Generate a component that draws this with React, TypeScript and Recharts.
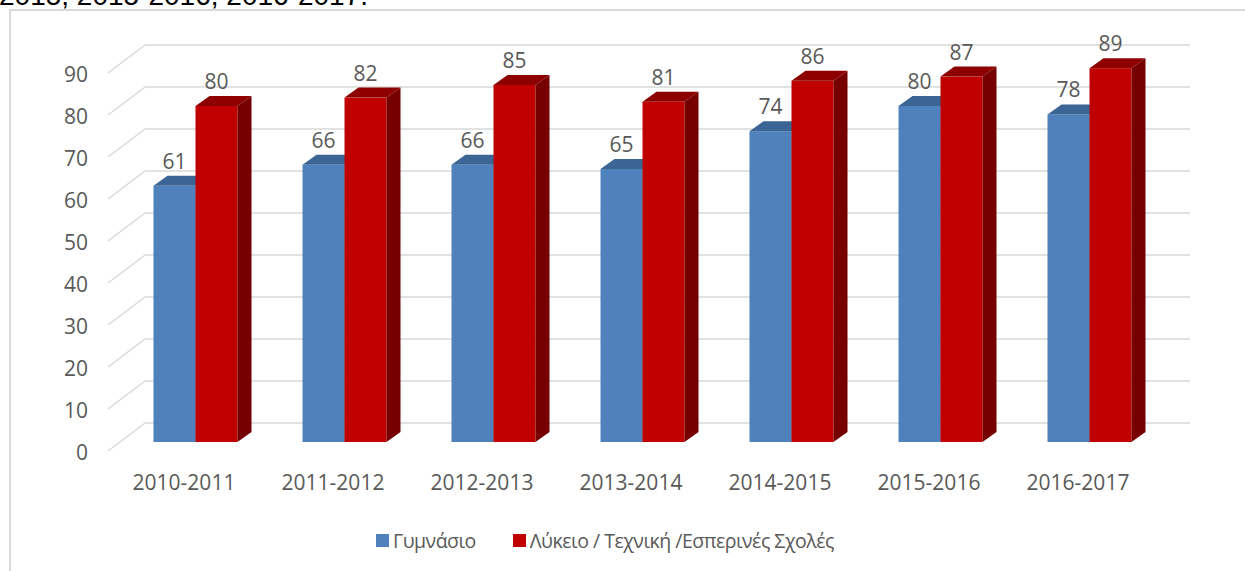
import React from 'react';
import { BarChart, Bar, XAxis, YAxis, CartesianGrid, LabelList } from 'recharts';

// --- data ---
const years = ['2010-2011', '2011-2012', '2012-2013', '2013-2014', '2014-2015', '2015-2016', '2016-2017'];
const gymnasio = [61, 66, 66, 65, 74, 80, 78];
const lykeio = [80, 82, 85, 81, 86, 87, 89];
const yTicks = [0, 10, 20, 30, 40, 50, 60, 70, 80, 90];
const seriesNames = ['Γυμνάσιο', 'Λύκειο / Τεχνική /Εσπερινές Σχολές'];

const data = years.map((year, i) => ({ year, gym: gymnasio[i], lyk: lykeio[i] }));

const FONT = '"Open Sans", sans-serif';
const TEXT = '#595959';
const GRID = '#d9d9d9';
// 3d depth of the columns
const DX = 14;
const DY = 10;

// column with a top and a side face
const Column3D = (props: any) => {
  const { x, y, width, height, front, top, side } = props;
  if (height == null || height <= 0) return null;
  const b = y + height;
  return (
    <g>
      <rect x={x} y={y} width={width} height={height} fill={front} />
      <polygon
        points={`${x},${y} ${x + DX},${y - DY} ${x + width + DX},${y - DY} ${x + width},${y}`}
        fill={top}
      />
      <polygon
        points={`${x + width},${y} ${x + width + DX},${y - DY} ${x + width + DX},${b - DY} ${x + width},${b}`}
        fill={side}
      />
    </g>
  );
};

// back wall line plus the slanted side-wall line
const GridLine = (props: any) => {
  const { x1, x2, y1 } = props;
  return (
    <g key={props.key}>
      <line x1={x1 + 24.5} y1={y1 - 19} x2={x2 + 26.5} y2={y1 - 19} stroke={GRID} strokeWidth={1.5} />
      <line x1={x1 - 12.5} y1={y1 + 9} x2={x1 + 24.5} y2={y1 - 19} stroke={GRID} strokeWidth={1.5} />
    </g>
  );
};

const YTick = (props: any) => {
  const { y, payload } = props;
  return (
    <text x={88} y={y + 10} textAnchor="end" dominantBaseline="central" fill={TEXT} fontSize={21} fontFamily={FONT}>
      {payload.value}
    </text>
  );
};

const XTick = (props: any) => {
  const { x, payload } = props;
  return (
    <text x={x - 11} y={490} textAnchor="middle" fill={TEXT} fontSize={21} fontFamily={FONT}>
      {payload.value}
    </text>
  );
};

const ValueLabel = (props: any) => {
  const { x, y, width, value } = props;
  return (
    <text x={x + width / 2} y={y - 17} textAnchor="middle" fill={TEXT} fontSize={21} fontFamily={FONT}>
      {value}
    </text>
  );
};

export default function App() {
  return (
    <div style={{ position: 'absolute', left: 0, top: 0, width: 1245, height: 571, overflow: 'hidden', background: '#fff' }}>
      <div
        style={{
          position: 'absolute',
          left: -1,
          top: -18,
          fontFamily: '"Liberation Sans", Arial, sans-serif',
          fontSize: 28,
          lineHeight: '28px',
          color: '#000',
          whiteSpace: 'nowrap',
        }}
      >
        2015, 2015-2016, 2016-2017.
      </div>
      <div
        style={{
          position: 'absolute',
          left: 9,
          top: 9,
          width: 1260,
          height: 600,
          border: '2px solid #d9d9d9',
          boxSizing: 'border-box',
        }}
      />
      <div style={{ position: 'absolute', left: 0, top: 0 }}>
        <BarChart
          width={1245}
          height={571}
          data={data}
          margin={{ top: 64, right: 81.5, left: 60.5, bottom: 89 }}
          barGap={0}
        >
          <CartesianGrid vertical={false} horizontal={(p: any) => <GridLine {...p} />} />
          <XAxis dataKey="year" axisLine={false} tickLine={false} height={40} tick={<XTick />} interval={0} />
          <YAxis
            width={60}
            domain={[0, 90]}
            ticks={yTicks}
            axisLine={false}
            tickLine={false}
            tick={<YTick />}
            interval={0}
          />
          <Bar
            dataKey="gym"
            barSize={42}
            isAnimationActive={false}
            shape={(p: any) => <Column3D {...p} front="#4f81bd" top="#3b6594" side="#385d8a" />}
          >
            <LabelList dataKey="gym" content={<ValueLabel />} />
          </Bar>
          <Bar
            dataKey="lyk"
            barSize={42}
            isAnimationActive={false}
            shape={(p: any) => <Column3D {...p} front="#c00000" top="#8e0000" side="#760000" />}
          >
            <LabelList dataKey="lyk" content={<ValueLabel />} />
          </Bar>
        </BarChart>
      </div>
      <div
        style={{
          position: 'absolute',
          top: 527,
          left: 376,
          display: 'flex',
          alignItems: 'center',
          fontFamily: FONT,
          fontSize: 19.5,
          letterSpacing: -0.5,
          color: TEXT,
          whiteSpace: 'nowrap',
        }}
      >
        <span style={{ width: 13, height: 13, background: '#4f81bd', marginRight: 4 }} />
        <span style={{ marginRight: 37 }}>{seriesNames[0]}</span>
        <span style={{ width: 13, height: 13, background: '#c00000', marginRight: 4 }} />
        <span>{seriesNames[1]}</span>
      </div>
    </div>
  );
}
